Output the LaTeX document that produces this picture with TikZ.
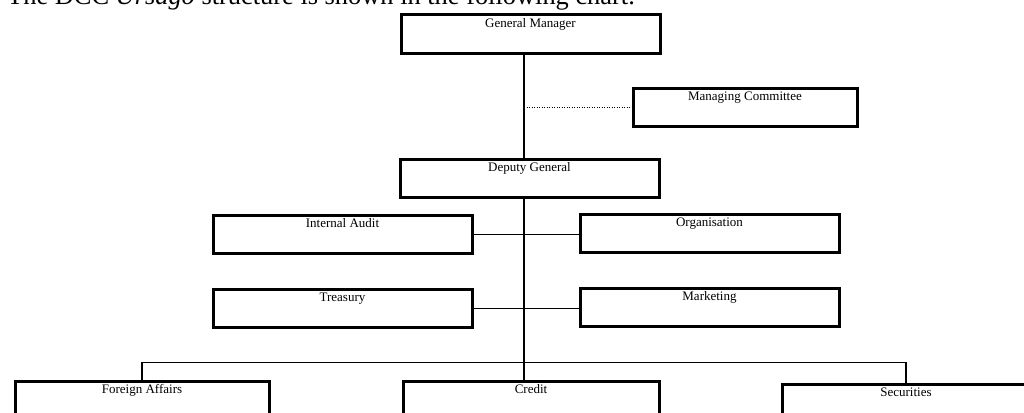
\documentclass[tikz,border=0pt]{standalone}
\usepackage{fontspec}
\setmainfont{Liberation Serif}
\begin{document}
\begin{tikzpicture}[x=1pt,y=-1pt,
  unitbox/.style={draw, line width=3pt, inner xsep=0pt, inner ysep=0pt,
    text height=12.5pt, text depth=26pt, anchor=north west,
    font=\fontsize{13}{15}\selectfont},
  link/.style={line width=1.5pt},
  dotlink/.style={line width=1.2pt, dash pattern=on 1.2pt off 1.3pt}]
\useasboundingbox (0,0) rectangle (1024,412);
\clip (0,0) rectangle (1024,412);

% introductory sentence, its upper part running off the top edge
\node[anchor=base west, inner sep=0pt, font=\fontsize{26.4}{30}\selectfont]
  (heading) at (7,5) {The DCC \textit{Ursago} structure is shown in the following chart.};

% management
\node[unitbox, minimum width=259pt] (gm) at (399.5,13.5) {General Manager};
\node[unitbox, minimum width=224pt] (mc) at (631.5,86.5) {Managing Committee};
\node[unitbox, minimum width=259pt] (dg) at (398.5,157.5) {Deputy General};

% staff departments
\node[unitbox, minimum width=259pt] (ia)  at (211.5,213.5) {Internal Audit};
\node[unitbox, minimum width=259pt] (org) at (578.5,212.5) {Organisation};
\node[unitbox, minimum width=259pt] (tr)  at (211.5,287.5) {Treasury};
\node[unitbox, minimum width=259pt] (mk)  at (578.5,286.5) {Marketing};

% line departments
\node[unitbox, minimum width=254pt] (fa)  at (13.5,379.5)  {Foreign Affairs};
\node[unitbox, minimum width=256pt] (cr)  at (401.5,379.5) {Credit};
\node[unitbox, minimum width=248pt] (sec) at (780.5,382.5) {Securities};

% spine and bus
\coordinate (bus) at (524,362.5);
\draw[link] (bus |- gm.south) -- (bus |- dg.north);
\draw[link] (bus |- dg.south) -- (bus);
\draw[dotlink] (bus |- mc.west) -- (mc.west);
\draw[link] (ia.east) -- (ia.east -| org.west);
\draw[link] (tr.east) -- (tr.east -| mk.west);
\draw[link] (fa.north) |- (bus) -| (sec.north);
\draw[link] (bus) -- (bus |- cr.north);
\end{tikzpicture}
\end{document}
